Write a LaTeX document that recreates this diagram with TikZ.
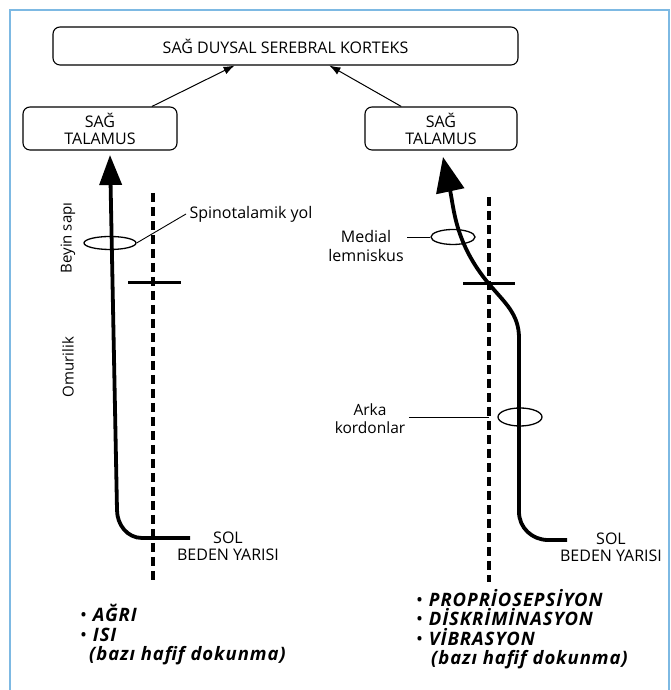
\documentclass[tikz,border=0pt]{standalone}
\usepackage{fontspec}
\setmainfont{Open Sans}
\newfontfamily\sensefont[LetterSpace=5]{Open Sans}
\usepackage{tikz}
\usetikzlibrary{arrows.meta, positioning, shapes.geometric}
\definecolor{framebl}{HTML}{7DB9E3}
\newcommand{\dotitem}{{\mdseries\upshape\textbullet}\ }

\begin{document}
\begin{tikzpicture} [x=1pt, y=1pt, black, font=\fontsize{16}{17}\selectfont,
	box/.style = {draw, rounded corners=7pt, line width=1.1pt, align=center},
	ring/.style = {draw, ellipse, line width=1.3pt, inner sep=0pt},
	tract/.style = {line width=3.8pt, -{Triangle[length=30pt, width=22pt]}},
	midline/.style = {line width=3.6pt, dash pattern=on 9pt off 5pt},
	crossbar/.style = {line width=3pt},
	leader/.style = {line width=0.9pt},
	sense/.style = {font=\sensefont\fontsize{18.5}{19.5}\selectfont\bfseries\itshape, align=left, anchor=north west, inner sep=0pt}]
		\useasboundingbox (0,0) rectangle (670,690);
		% Frame (open at the bottom)
		\draw [framebl, line width=2pt] (10,0) -- (10,680) -- (669,680) -- (669,0);

		% Cortex and the two thalamus boxes
		\node (kortex) [box, minimum width=465pt, minimum height=38pt] at (285.5,644) {SAĞ DUYSAL SEREBRAL KORTEKS};
		\node (ltal) [box, minimum width=154pt, minimum height=43pt] at (100,561.5) {SAĞ\\TALAMUS};
		\node (rtal) [box, minimum width=152pt, minimum height=43pt] at (441,561.5) {SAĞ\\TALAMUS};

		\path [-{Latex[length=11pt, width=8pt]}, line width=1pt]
		(ltal.23) edge (kortex.201)
		(rtal.151) edge (kortex.-24);

		% Left side : spinothalamic tract
		\coordinate (ldtop) at (153,497);
		\coordinate (ldbot) at (153,107);
		\coordinate (lcross) at (153,407);
		\coordinate (lsol) at (190,152);
		\coordinate (ltip) at (110,535);
		\draw [midline] (ldtop) -- (ldbot);
		\draw [crossbar] ([xshift=-25pt]lcross) -- ([xshift=28pt]lcross);
		\draw [tract] (lsol) -- (142,152) to [out=180, in=-90] (117,180) -- (ltip);

		\node (lring) [ring, minimum width=52pt, minimum height=13pt] at (110,447) {};
		\node (spino) [anchor=west] at (186,476) {Spinotalamik yol};
		\draw [leader] (lring.east) -- (spino.west);

		\node (beyin) [rotate=90, font=\fontsize{15}{17}\selectfont] at (68,452) {Beyin sapı};
		\node (omur) [rotate=90, font=\fontsize{15}{17}\selectfont] at (68,323) {Omurilik};
		\node (lsoltext) [align=center] at (228,143.5) {SOL\\BEDEN YARISI};

		\node (lsense) [sense] at (80,86) {\dotitem AĞRI\\\dotitem ISI\\\hspace{9pt}(bazı hafif dokunma)};

		% Right side : dorsal columns - medial lemniscus
		\coordinate (rdtop) at (489,493);
		\coordinate (rdbot) at (489,108);
		\coordinate (rcross) at (489,406);
		\coordinate (rsol) at (567,150);
		\coordinate (rtip) at (443,533);
		\draw [midline] (rdtop) -- (rdbot);
		\draw [crossbar] ([xshift=-26pt]rcross) -- ([xshift=26pt]rcross);
		\draw [tract, -{Triangle[length=35pt, width=28pt]}] (rsol) -- (548,150) to [out=180, in=-90] (519,178) -- (519,352)
		to [out=90, in=-50] (rcross) to [out=130, in=-78] (rtip);

		\node (mring) [ring, minimum width=44pt, minimum height=15pt] at (453,453) {};
		\node (aring) [ring, minimum width=44pt, minimum height=18pt] at (520,273) {};
		\node (medial) [align=center, font=\fontsize{16}{19}\selectfont] at (366,443.5) {Medial\\lemniskus};
		\node (arka) [align=center, font=\fontsize{15.5}{18}\selectfont] at (370,271) {Arka\\kordonlar};
		\draw [leader] (mring.west) -- (mring.west -| medial.east);
		\draw [leader] (arka.east |- aring.west) -- (rdtop |- aring.west);

		\node (rsoltext) [align=center] at (611,143) {SOL\\BEDEN YARISI};

		\node (rsense) [sense] at (416,101) {\dotitem PROPRİOSEPSİYON\\\dotitem DİSKRİMİNASYON\\\dotitem VİBRASYON\\\hspace{15pt}(bazı hafif dokunma)};
	\end{tikzpicture}
\end{document}
